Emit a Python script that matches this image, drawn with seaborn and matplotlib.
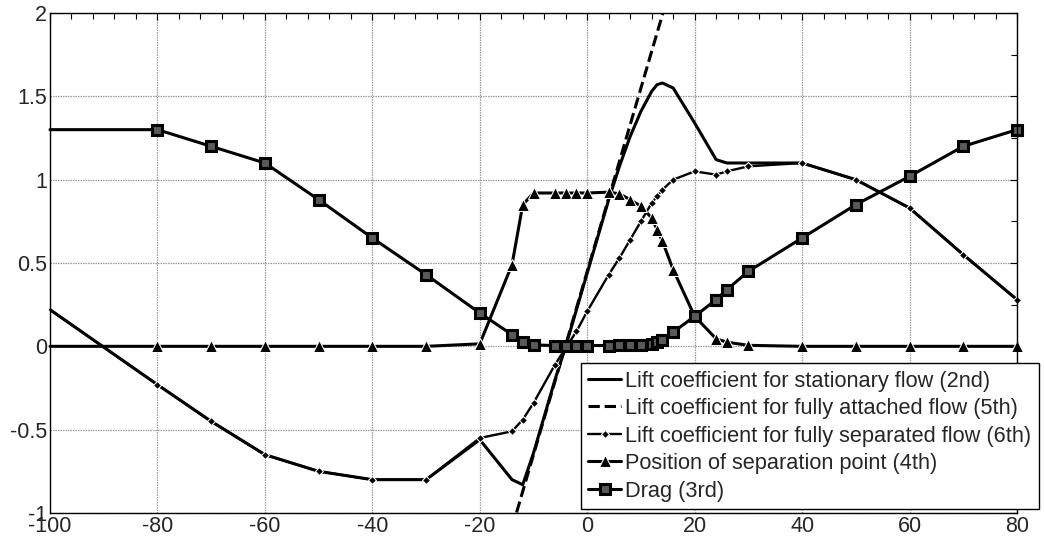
import numpy as np
import matplotlib
matplotlib.use("Agg")
import matplotlib.pyplot as plt
import seaborn as sns
from matplotlib.ticker import MultipleLocator

# angle of attack grid (deg) shared by the tabulated curves
alpha = [-100, -80, -70, -60, -50, -40, -30, -20, -14, -12, -10, -6, -4, -2, 0,
         4, 6, 8, 10, 12, 13, 14, 16, 20, 24, 26, 30, 40, 50, 60, 70, 80]

cl_stationary = [0.22, -0.23, -0.45, -0.65, -0.75, -0.80, -0.80, -0.56, -0.80, -0.83,
                 -0.64, -0.20, 0.00, 0.22, 0.44, 0.88, 1.08, 1.26, 1.41, 1.53, 1.57,
                 1.58, 1.55, 1.34, 1.12, 1.10, 1.10, 1.10, 1.00, 0.83, 0.55, 0.28]

cl_separated = [0.22, -0.23, -0.45, -0.65, -0.75, -0.80, -0.80, -0.55, -0.51, -0.44,
                -0.34, -0.11, -0.01, 0.09, 0.21, 0.43, 0.53, 0.64, 0.75, 0.86, 0.90,
                0.94, 1.00, 1.05, 1.03, 1.05, 1.08, 1.10, 1.00, 0.83, 0.55, 0.28]

sep_point = [0.0, 0.0, 0.0, 0.0, 0.0, 0.0, 0.0, 0.015, 0.49, 0.85, 0.92, 0.92, 0.92,
             0.92, 0.92, 0.925, 0.915, 0.88, 0.84, 0.77, 0.70, 0.63, 0.46, 0.18,
             0.045, 0.025, 0.006, 0.0, 0.0, 0.0, 0.0, 0.0]

drag = [1.30, 1.30, 1.20, 1.10, 0.88, 0.65, 0.43, 0.20, 0.07, 0.025, 0.008, 0.005,
        0.005, 0.005, 0.005, 0.005, 0.006, 0.008, 0.01, 0.015, 0.025, 0.04, 0.085,
        0.18, 0.28, 0.34, 0.45, 0.65, 0.85, 1.02, 1.20, 1.30]

# fully attached lift only over the linear range
alpha_att = [-14, -12, -10, -6, -4, -2, 0, 4, 6, 8, 10, 12, 14, 16]
cl_attached = [-1.09, -0.87, -0.65, -0.21, 0.01, 0.23, 0.45, 0.89, 1.11, 1.33,
               1.55, 1.77, 1.99, 2.21]

labels = ["Lift coefficient for stationary flow (2nd)",
          "Lift coefficient for fully attached flow (5th)",
          "Lift coefficient for fully separated flow (6th)",
          "Position of separation point (4th)",
          "Drag (3rd)"]

sns.set_style("white")
plt.rcParams["font.family"] = ["Liberation Sans", "DejaVu Sans"]

fig, ax = plt.subplots(figsize=(10.44, 5.46), dpi=100)
fig.subplots_adjust(left=50/1044, right=1017/1044, top=1-13/546, bottom=1-513/546)

skip_first = list(range(1, len(alpha)))

sns.lineplot(x=alpha, y=cl_stationary, ax=ax, color="black", lw=2.2,
             estimator=None, sort=False, label=labels[0])
sns.lineplot(x=alpha_att, y=cl_attached, ax=ax, color="black", lw=2.2,
             linestyle="--", dashes=(3.5, 1.6), estimator=None, sort=False, label=labels[1])
sns.lineplot(x=alpha, y=cl_separated, ax=ax, color="black", lw=1.7, marker="D",
             markersize=4, markevery=skip_first, estimator=None, sort=False,
             clip_on=False, label=labels[2])
sns.lineplot(x=alpha, y=sep_point, ax=ax, color="black", lw=2.2, marker="^",
             markersize=9, markevery=skip_first, estimator=None, sort=False,
             clip_on=False, label=labels[3])
sns.lineplot(x=alpha, y=drag, ax=ax, color="black", lw=2.2, marker="s",
             markersize=6.5, mfc="0.35", mec="black", mew=2.2,
             markevery=skip_first, estimator=None, sort=False, clip_on=False,
             label=labels[4])

ax.set_xlim(-100, 80)
ax.set_ylim(-1, 2)
ax.set_xticks(np.arange(-100, 81, 20))
ax.set_yticks([-1, -0.5, 0, 0.5, 1, 1.5, 2])
ax.set_yticklabels(["-1", "-0.5", "0", "0.5", "1", "1.5", "2"])
ax.set_xticklabels([str(v) for v in range(-100, 81, 20)])
ax.xaxis.set_minor_locator(MultipleLocator(4))
ax.yaxis.set_minor_locator(MultipleLocator(0.25))
ax.tick_params(which="both", direction="in", top=True, right=True, color="black",
               labelsize=15.5, width=0.8)
ax.tick_params(which="major", length=5, pad=2)
ax.tick_params(which="minor", length=4)
ax.grid(True, which="major", color="0.6", linestyle=(0, (1.2, 0.8)), linewidth=0.9)
for s in ax.spines.values():
    s.set_color("black")
    s.set_linewidth(1.0)
ax.set_xlabel("")
ax.set_ylabel("")

leg = ax.legend(loc="lower left", bbox_to_anchor=(580.7/1044, 36.7/546),
                bbox_transform=fig.transFigure, borderaxespad=0, fontsize=15.7,
                handlelength=1.5, handletextpad=0.2, labelspacing=0.3,
                borderpad=0.35, fancybox=False, framealpha=1, edgecolor="black")
leg.get_frame().set_linewidth(1.0)
leg.set_zorder(5)

fig.savefig("out.png", dpi=100)
